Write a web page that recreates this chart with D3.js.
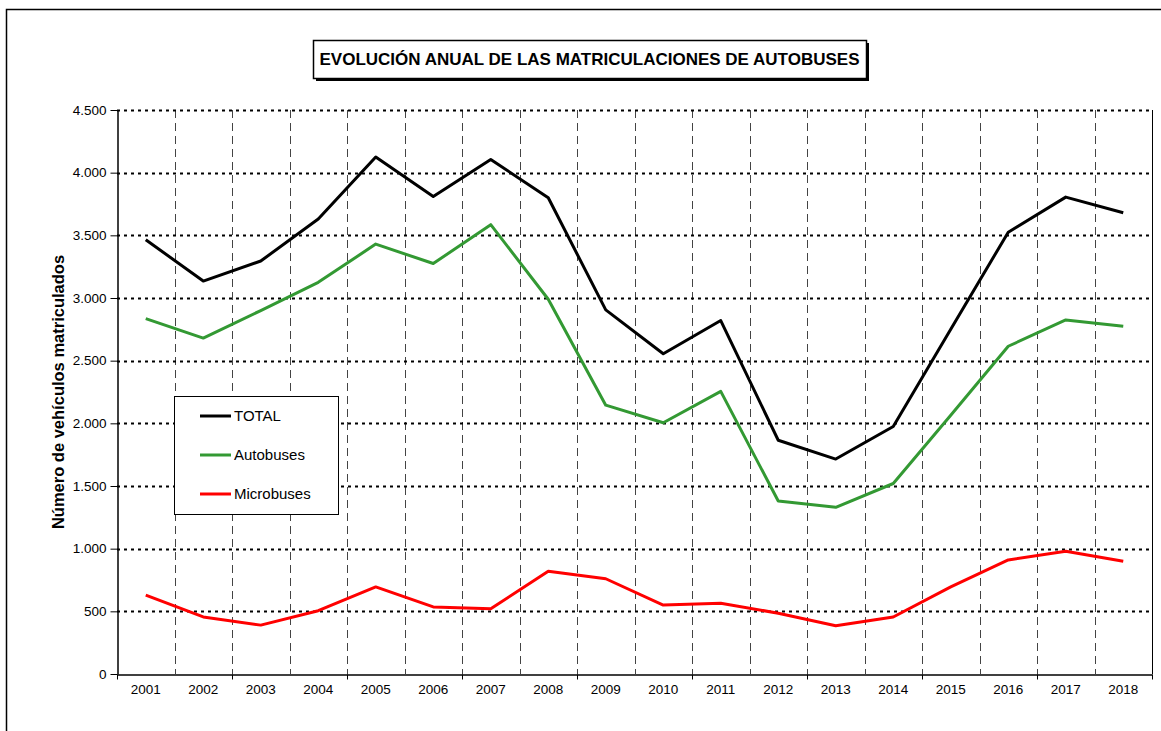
<!DOCTYPE html>
<html>
<head>
<meta charset="utf-8">
<script src="https://cdn.jsdelivr.net/npm/d3@7"></script>
<style>
  body { margin: 0; background: #fff; }
  svg { display: block; font-family: Arial, "Liberation Sans", sans-serif; }
</style>
</head>
<body>
<div id="chart"></div>
<script>
// data
const years = ['2001', '2002', '2003', '2004', '2005', '2006', '2007', '2008', '2009',
    '2010', '2011', '2012', '2013', '2014', '2015', '2016', '2017', '2018'];
const total = [3465, 3135, 3295, 3630, 4125, 3810, 4105, 3800, 2905,
    2555, 2820, 1865, 1715, 1975, 2750, 3525, 3805, 3680];
const autobuses = [2835, 2680, 2900, 3125, 3430, 3275, 3585, 2990, 2145,
    2005, 2255, 1380, 1330, 1520, 2065, 2615, 2825, 2775];
const microbuses = [630, 455, 390, 505, 695, 535, 520, 820, 760,
    550, 565, 485, 385, 455, 695, 910, 980, 900];
const yTicks = [0, 500, 1000, 1500, 2000, 2500, 3000, 3500, 4000, 4500];

const series = [
    { name: 'TOTAL', values: total, color: '#000000' },
    { name: 'Autobuses', values: autobuses, color: '#339933' },
    { name: 'Microbuses', values: microbuses, color: '#ff0000' },
];

const width = 1161, height = 731;
const plot = { left: 117, top: 110, right: 1152, bottom: 674 };

const svg = d3.select('#chart').append('svg')
    .attr('width', width)
    .attr('height', height);

// outer frame of the chart object
svg.append('rect')
    .attr('x', 6.5).attr('y', 9.5)
    .attr('width', 1170).attr('height', 740)
    .attr('fill', 'none').attr('stroke', '#000').attr('stroke-width', 1.5);

const x = d3.scaleBand().domain(years).range([plot.left, plot.right]);
const y = d3.scaleLinear().domain([0, 4500]).range([plot.bottom, plot.top]);
const fmt = (d) => d3.format(',')(d).replace(/,/g, '.');

// vertical dashed grid at band boundaries
const bounds = years.slice(1).map((d) => x(d));
svg.append('g').selectAll('line').data(bounds).enter().append('line')
    .attr('x1', (d) => Math.round(d) + 0.5).attr('x2', (d) => Math.round(d) + 0.5)
    .attr('y1', plot.top).attr('y2', plot.bottom)
    .attr('stroke', '#444').attr('stroke-width', 1)
    .attr('stroke-dasharray', '8,5');

// horizontal dotted grid
svg.append('g').selectAll('line').data(yTicks.filter((d) => d > 0)).enter().append('line')
    .attr('x1', plot.left).attr('x2', plot.right)
    .attr('y1', (d) => Math.round(y(d)) + 0.5).attr('y2', (d) => Math.round(y(d)) + 0.5)
    .attr('stroke', '#000').attr('stroke-width', 2)
    .attr('stroke-dasharray', '3,4');

// plot area right border
svg.append('line')
    .attr('x1', plot.right + 0.5).attr('x2', plot.right + 0.5)
    .attr('y1', plot.top).attr('y2', plot.bottom)
    .attr('stroke', '#000').attr('stroke-width', 1);

// y axis
const yAxis = svg.append('g')
    .attr('transform', `translate(${plot.left + 0.5},0)`)
    .call(d3.axisLeft(y).tickValues(yTicks).tickFormat(fmt).tickSize(7).tickPadding(4).tickSizeOuter(0));
yAxis.select('.domain').attr('stroke-width', 1.5);
yAxis.selectAll('text').attr('font-size', 13.5).attr('fill', '#000')
    .attr('font-family', 'Arial, "Liberation Sans", sans-serif');

// x axis
const xAxis = svg.append('g')
    .attr('transform', `translate(0,${plot.bottom + 0.5})`)
    .call(d3.axisBottom(x).tickSize(0).tickPadding(10).tickSizeOuter(0));
xAxis.select('.domain').attr('stroke-width', 1.5);
xAxis.selectAll('text').attr('font-size', 13.5).attr('fill', '#000')
    .attr('font-family', 'Arial, "Liberation Sans", sans-serif');
// tick marks at every other boundary
const tickPos = [plot.left].concat(bounds.filter((d, i) => i % 2 === 1), [plot.right]);
xAxis.selectAll('.xt').data(tickPos).enter().append('line')
    .attr('class', 'xt')
    .attr('x1', (d) => Math.round(d) + 0.5).attr('x2', (d) => Math.round(d) + 0.5)
    .attr('y1', 0).attr('y2', 5)
    .attr('stroke', '#000').attr('stroke-width', 1);

// lines
const line = d3.line()
    .x((d, i) => x(years[i]) + x.bandwidth() / 2)
    .y((d) => y(d));
svg.append('g').selectAll('path').data(series).enter().append('path')
    .attr('d', (s) => line(s.values))
    .attr('fill', 'none')
    .attr('stroke', (s) => s.color)
    .attr('stroke-width', 3)
    .attr('stroke-linejoin', 'round');

// y axis title
svg.append('text')
    .attr('transform', `translate(64, ${(plot.top + plot.bottom) / 2}) rotate(-90)`)
    .attr('text-anchor', 'middle')
    .attr('font-size', 16.5).attr('font-weight', 'bold')
    .text('Número de vehículos matriculados');

// title box with shadow
const tb = { x: 313, y: 40, w: 553, h: 38 };
svg.append('rect')
    .attr('x', tb.x + 3).attr('y', tb.y + 3).attr('width', tb.w).attr('height', tb.h)
    .attr('fill', '#000');
svg.append('rect')
    .attr('x', tb.x + 0.5).attr('y', tb.y + 0.5).attr('width', tb.w).attr('height', tb.h)
    .attr('fill', '#fff').attr('stroke', '#000').attr('stroke-width', 1.5);
svg.append('text')
    .attr('x', tb.x + tb.w / 2).attr('y', tb.y + tb.h / 2 + 6)
    .attr('text-anchor', 'middle')
    .attr('font-size', 17).attr('font-weight', 'bold')
    .text('EVOLUCIÓN ANUAL DE LAS MATRICULACIONES DE AUTOBUSES');

// legend
const lg = svg.append('g').attr('transform', 'translate(174,396)');
lg.append('rect')
    .attr('x', 0.5).attr('y', 0.5).attr('width', 164).attr('height', 118)
    .attr('fill', '#fff').attr('stroke', '#000').attr('stroke-width', 1);
const items = lg.selectAll('.item').data(series).enter().append('g')
    .attr('class', 'item')
    .attr('transform', (d, i) => `translate(0, ${20 + i * 39})`);
items.append('line')
    .attr('x1', 26).attr('x2', 57).attr('y1', 0).attr('y2', 0)
    .attr('stroke', (d) => d.color).attr('stroke-width', 3);
items.append('text')
    .attr('x', 60).attr('y', 5)
    .attr('font-size', 15)
    .text((d) => d.name);
</script>
</body>
</html>
